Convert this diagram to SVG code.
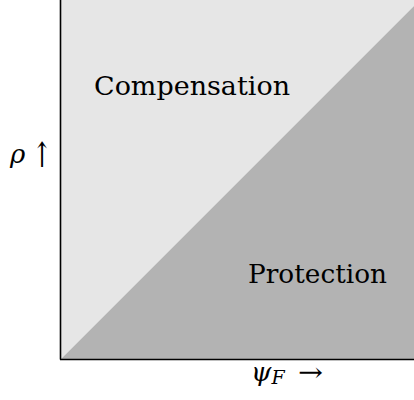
<svg xmlns="http://www.w3.org/2000/svg" width="414" height="400" viewBox="0 0 414 400">
<style>
.lbl{font-family:"DejaVu Serif","Liberation Serif",serif;font-size:26px;fill:#000}
.math{font-family:"DejaVu Serif","Liberation Serif",serif;font-style:italic;fill:#000}
.arr{font-family:"DejaVu Serif","DejaVu Sans",serif;fill:#000}
.axis{stroke:#000;stroke-width:1.6;fill:none}
</style>
<rect width="414" height="400" fill="#fff"/>
<g id="compensation">
<polygon points="61,0 420,0 61,359" fill="#e6e6e6"/>
<text class="lbl" x="94" y="95" textLength="196" lengthAdjust="spacingAndGlyphs">Compensation</text>
</g>
<g id="protection">
<polygon points="420,0 420,359 61,359" fill="#b3b3b3"/>
<text class="lbl" x="248" y="283" textLength="139" lengthAdjust="spacingAndGlyphs">Protection</text>
</g>
<g id="axes">
<line class="axis" x1="60.5" y1="0" x2="60.5" y2="359.5"/>
<line class="axis" x1="60" y1="359.5" x2="414" y2="359.5"/>
</g>
<g id="ylabel">
<text class="math" x="10" y="163" font-size="26">ρ</text>
<text class="arr" x="42" y="167" font-size="30" text-anchor="middle" transform="translate(42 167) scale(0.8 1.15) translate(-42 -167)">↑</text>
</g>
<g id="xlabel">
<text class="math" x="251" y="381" font-size="26">ψ<tspan font-size="19" dy="3">F</tspan></text>
<text class="arr" x="298" y="381" font-size="26" textLength="25" lengthAdjust="spacingAndGlyphs">→</text>
</g>
</svg>
